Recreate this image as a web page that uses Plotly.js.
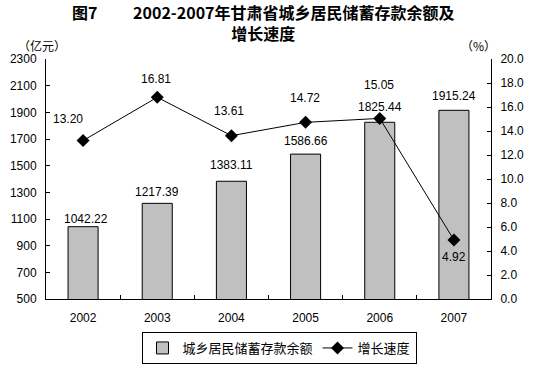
<!DOCTYPE html>
<html>
<head>
<meta charset="utf-8">
<script src="https://cdn.plot.ly/plotly-3.0.1.min.js"></script>
<style>html,body{margin:0;padding:0;background:#fff;}#chart{width:534px;height:367px;}</style>
</head>
<body>
<div id="chart"></div>
<script>
// Data
var years = ['2002', '2003', '2004', '2005', '2006', '2007'];
var deposits = [1042.22, 1217.39, 1383.11, 1586.66, 1825.44, 1915.24];
var growth = [13.20, 16.81, 13.61, 14.72, 15.05, 4.92];
var leftTicks = [500, 700, 900, 1100, 1300, 1500, 1700, 1900, 2100, 2300];
var rightTicks = [0, 2, 4, 6, 8, 10, 12, 14, 16, 18, 20];

// Label offsets (pixels) for readability, matching the reference placement
var barLabelShift = [[3, 8], [0, 11], [0, 16], [0, 13], [0, 15], [0, 14]];
var lineLabelShift = [[-15, 22], [-1, 18], [-2, 25], [-1, 24], [-1, 33], [0, -17]];

var numFont = 'Liberation Sans, Arial, Noto Sans CJK SC, sans-serif';
var cjkFont = 'Noto Sans CJK SC, sans-serif';

var traces = [
  {
    type: 'bar',
    name: '城乡居民储蓄存款余额',
    x: years,
    y: deposits,
    yaxis: 'y',
    marker: {color: '#c0c0c0', line: {color: '#000', width: 1}},
    hoverinfo: 'x+y'
  },
  {
    type: 'scatter',
    mode: 'lines+markers',
    name: '增长速度',
    x: years,
    y: growth,
    yaxis: 'y2',
    line: {color: '#000', width: 1},
    marker: {symbol: 'diamond', size: 10, color: '#000'},
    hoverinfo: 'x+y'
  }
];

var annotations = [];
years.forEach(function (yr, i) {
  // category axis: use the category index so numeric-looking names are not read as indices
  annotations.push({
    x: i, y: deposits[i], xref: 'x', yref: 'y',
    text: deposits[i].toFixed(2), showarrow: false,
    xshift: barLabelShift[i][0], yshift: barLabelShift[i][1],
    yanchor: 'middle', font: {family: numFont, size: 12, color: '#000'}
  });
  annotations.push({
    x: i, y: growth[i], xref: 'x', yref: 'y2',
    text: growth[i].toFixed(2), showarrow: false,
    xshift: lineLabelShift[i][0], yshift: lineLabelShift[i][1],
    font: {family: numFont, size: 12, color: '#000'}
  });
});
annotations.push({
  xref: 'paper', yref: 'paper', x: -0.009, y: 1.0, yshift: 14,
  text: '（亿元）', showarrow: false, xanchor: 'center', yanchor: 'middle',
  font: {family: cjkFont, size: 12, color: '#000'}
});
annotations.push({
  xref: 'paper', yref: 'paper', x: 0.971, y: 1.0, yshift: 14,
  text: '（%）', showarrow: false, xanchor: 'center', yanchor: 'middle',
  font: {family: cjkFont, size: 12, color: '#000'}
});

var layout = {
  width: 534,
  height: 367,
  margin: {l: 46, r: 43, t: 59, b: 68, pad: 0},
  paper_bgcolor: '#fff',
  plot_bgcolor: '#fff',
  font: {family: numFont, size: 12, color: '#000'},
  title: {
    text: '<b>图7\u3000\u3000 2002-2007年甘肃省城乡居民储蓄存款余额及<br>增长速度</b>',
    font: {family: cjkFont, size: 16, color: '#000'},
    x: 0.493, xref: 'container', xanchor: 'center',
    y: 1 - 19 / 367, yref: 'container', yanchor: 'top'
  },
  bargap: 0.595,
  showlegend: true,
  legend: {
    orientation: 'h',
    xref: 'container', yref: 'container',
    x: 279 / 534, xanchor: 'center',
    y: 1 - 348 / 367, yanchor: 'middle',
    bordercolor: '#000', borderwidth: 1, bgcolor: '#fff',
    font: {family: cjkFont, size: 13, color: '#000'},
    traceorder: 'normal'
  },
  xaxis: {
    type: 'category',
    range: [-0.5, 5.5],
    showline: true, linecolor: '#000', linewidth: 1,
    ticks: 'inside', tickson: 'boundaries', ticklen: 4, tickcolor: '#000',
    showgrid: false, zeroline: false,
    tickfont: {family: numFont, size: 12, color: '#000'},
    ticklabelstandoff: 8,
    fixedrange: true
  },
  yaxis: {
    range: [500, 2300],
    tickvals: leftTicks,
    ticktext: leftTicks.map(String),
    showline: true, linecolor: '#000', linewidth: 1,
    ticks: 'inside', ticklen: 4, tickcolor: '#000',
    showgrid: false, zeroline: false,
    tickfont: {family: numFont, size: 12, color: '#000'},
    ticklabelstandoff: 6,
    fixedrange: true
  },
  yaxis2: {
    range: [0, 20],
    overlaying: 'y',
    side: 'right',
    tickvals: rightTicks,
    ticktext: rightTicks.map(function (v) { return v.toFixed(1); }),
    showline: true, linecolor: '#000', linewidth: 1,
    ticks: 'inside', ticklen: 4, tickcolor: '#000',
    showgrid: false, zeroline: false,
    tickfont: {family: numFont, size: 12, color: '#000'},
    ticklabelstandoff: 6,
    fixedrange: true
  },
  annotations: annotations
};

Plotly.newPlot('chart', traces, layout, {displayModeBar: false, staticPlot: true});
</script>
</body>
</html>
